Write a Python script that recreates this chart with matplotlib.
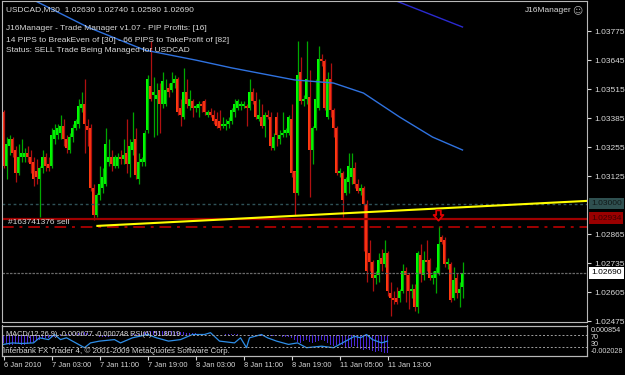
import matplotlib.pyplot as plt
from matplotlib.path import Path
import numpy as np

plt.rcParams['font.family'] = ['Liberation Sans', 'DejaVu Sans']

# --- свечи USDCAD M30 (цены) ---
opens = [1.0341, 1.0317, 1.0326, 1.0329, 1.0324, 1.0314, 1.0321, 1.0321, 1.0323, 1.0321,
         1.0319, 1.0315, 1.0311, 1.0316, 1.0321, 1.0318, 1.0317, 1.0329, 1.0331, 1.0332,
         1.0335, 1.0329, 1.0324, 1.0330, 1.0334, 1.0336, 1.0343, 1.0345, 1.0335, 1.0334,
         1.0307, 1.0295, 1.0304, 1.0307, 1.0309, 1.0319, 1.0321, 1.0317, 1.0317, 1.0321,
         1.0320, 1.0323, 1.0318, 1.0324, 1.0329, 1.0311, 1.0319, 1.0319, 1.0333, 1.0353,
         1.0349, 1.0347, 1.0351, 1.0345, 1.0345, 1.0352, 1.0351, 1.0354, 1.0356, 1.0343,
         1.0339, 1.0350, 1.0344, 1.0346, 1.0343, 1.0343, 1.0345, 1.0346, 1.0340, 1.0341,
         1.0340, 1.0338, 1.0337, 1.0335, 1.0335, 1.0336, 1.0337, 1.0341, 1.0343, 1.0344,
         1.0344, 1.0344, 1.0343, 1.0350, 1.0346, 1.0338, 1.0339, 1.0335, 1.0340, 1.0339,
         1.0325, 1.0339, 1.0329, 1.0331, 1.0332, 1.0332, 1.0338, 1.0315, 1.0305, 1.0359,
         1.0346, 1.0347, 1.0348, 1.0324, 1.0334, 1.0343, 1.0365, 1.0364, 1.0339, 1.0356,
         1.0342, 1.0334, 1.0314, 1.0314, 1.0305, 1.0310, 1.0312, 1.0316, 1.0309, 1.0306,
         1.0307, 1.0300, 1.0278, 1.0274, 1.0267, 1.0268, 1.0276, 1.0273, 1.0278, 1.0260,
         1.0258, 1.0258, 1.0258, 1.0261, 1.0270, 1.0268, 1.0261, 1.0262, 1.0254, 1.0277,
         1.0268, 1.0275, 1.0275, 1.0267, 1.0267, 1.0269, 1.0285, 1.0284, 1.0273, 1.0273,
         1.0258, 1.0267, 1.0260, 1.0263]
highs = [1.0342, 1.0330, 1.0331, 1.0330, 1.0326, 1.0327, 1.0329, 1.0325, 1.0326, 1.0324,
         1.0321, 1.0320, 1.0317, 1.0324, 1.0323, 1.0321, 1.0334, 1.0336, 1.0336, 1.0340,
         1.0338, 1.0331, 1.0332, 1.0336, 1.0338, 1.0347, 1.0350, 1.0356, 1.0338, 1.0336,
         1.0309, 1.0305, 1.0317, 1.0316, 1.0334, 1.0329, 1.0324, 1.0322, 1.0323, 1.0324,
         1.0329, 1.0338, 1.0329, 1.0341, 1.0334, 1.0323, 1.0321, 1.0333, 1.0358, 1.0373,
         1.0357, 1.0354, 1.0354, 1.0359, 1.0356, 1.0354, 1.0359, 1.0358, 1.0357, 1.0347,
         1.0361, 1.0356, 1.0351, 1.0347, 1.0345, 1.0346, 1.0346, 1.0347, 1.0342, 1.0343,
         1.0342, 1.0341, 1.0342, 1.0339, 1.0338, 1.0339, 1.0343, 1.0347, 1.0347, 1.0346,
         1.0346, 1.0345, 1.0356, 1.0352, 1.0350, 1.0347, 1.0345, 1.0341, 1.0342, 1.0341,
         1.0332, 1.0341, 1.0333, 1.0341, 1.0334, 1.0340, 1.0345, 1.0315, 1.0373, 1.0366,
         1.0349, 1.0373, 1.0360, 1.0335, 1.0356, 1.0371, 1.0367, 1.0365, 1.0359, 1.0363,
         1.0343, 1.0335, 1.0316, 1.0315, 1.0312, 1.0323, 1.0323, 1.0319, 1.0311, 1.0309,
         1.0308, 1.0302, 1.0284, 1.0275, 1.0270, 1.0278, 1.0280, 1.0284, 1.0279, 1.0265,
         1.0261, 1.0263, 1.0262, 1.0273, 1.0272, 1.0269, 1.0264, 1.0264, 1.0279, 1.0282,
         1.0279, 1.0284, 1.0276, 1.0270, 1.0272, 1.0290, 1.0286, 1.0285, 1.0276, 1.0274,
         1.0272, 1.0269, 1.0265, 1.0274]
lows = [1.0316, 1.0311, 1.0322, 1.0321, 1.0310, 1.0313, 1.0319, 1.0319, 1.0319, 1.0314,
        1.0308, 1.0309, 1.0294, 1.0314, 1.0315, 1.0315, 1.0316, 1.0327, 1.0329, 1.0329,
        1.0326, 1.0323, 1.0323, 1.0328, 1.0333, 1.0334, 1.0341, 1.0323, 1.0326, 1.0306,
        1.0293, 1.0294, 1.0302, 1.0305, 1.0308, 1.0317, 1.0315, 1.0316, 1.0316, 1.0318,
        1.0318, 1.0314, 1.0312, 1.0322, 1.0311, 1.0309, 1.0317, 1.0317, 1.0332, 1.0346,
        1.0330, 1.0331, 1.0332, 1.0343, 1.0344, 1.0348, 1.0350, 1.0352, 1.0340, 1.0335,
        1.0338, 1.0343, 1.0342, 1.0339, 1.0341, 1.0339, 1.0341, 1.0340, 1.0339, 1.0339,
        1.0336, 1.0334, 1.0333, 1.0334, 1.0333, 1.0334, 1.0336, 1.0339, 1.0342, 1.0342,
        1.0343, 1.0335, 1.0342, 1.0345, 1.0338, 1.0337, 1.0334, 1.0330, 1.0338, 1.0324,
        1.0324, 1.0326, 1.0327, 1.0330, 1.0330, 1.0331, 1.0312, 1.0295, 1.0304, 1.0345,
        1.0344, 1.0345, 1.0303, 1.0318, 1.0333, 1.0342, 1.0362, 1.0342, 1.0338, 1.0339,
        1.0330, 1.0313, 1.0312, 1.0294, 1.0304, 1.0305, 1.0309, 1.0307, 1.0305, 1.0304,
        1.0279, 1.0265, 1.0270, 1.0261, 1.0264, 1.0265, 1.0270, 1.0272, 1.0259, 1.0250,
        1.0255, 1.0255, 1.0256, 1.0260, 1.0256, 1.0253, 1.0258, 1.0252, 1.0251, 1.0265,
        1.0266, 1.0270, 1.0266, 1.0264, 1.0260, 1.0268, 1.0282, 1.0272, 1.0271, 1.0256,
        1.0257, 1.0258, 1.0254, 1.0258]
closes = [1.0317, 1.0327, 1.0329, 1.0323, 1.0314, 1.0321, 1.0323, 1.0323, 1.0321, 1.0318,
          1.0311, 1.0312, 1.0316, 1.0321, 1.0317, 1.0316, 1.0331, 1.0333, 1.0334, 1.0335,
          1.0329, 1.0325, 1.0330, 1.0334, 1.0337, 1.0344, 1.0345, 1.0336, 1.0333, 1.0307,
          1.0295, 1.0304, 1.0309, 1.0312, 1.0327, 1.0321, 1.0318, 1.0321, 1.0321, 1.0320,
          1.0322, 1.0318, 1.0326, 1.0328, 1.0313, 1.0319, 1.0320, 1.0332, 1.0356, 1.0347,
          1.0350, 1.0349, 1.0345, 1.0355, 1.0351, 1.0350, 1.0354, 1.0356, 1.0341, 1.0340,
          1.0350, 1.0345, 1.0347, 1.0343, 1.0344, 1.0345, 1.0344, 1.0341, 1.0341, 1.0340,
          1.0337, 1.0335, 1.0334, 1.0336, 1.0336, 1.0337, 1.0342, 1.0345, 1.0346, 1.0345,
          1.0345, 1.0343, 1.0350, 1.0346, 1.0339, 1.0340, 1.0335, 1.0340, 1.0339, 1.0326,
          1.0330, 1.0331, 1.0331, 1.0332, 1.0333, 1.0339, 1.0314, 1.0305, 1.0358, 1.0346,
          1.0347, 1.0356, 1.0324, 1.0334, 1.0347, 1.0365, 1.0364, 1.0343, 1.0356, 1.0342,
          1.0334, 1.0314, 1.0315, 1.0302, 1.0311, 1.0317, 1.0316, 1.0309, 1.0306, 1.0307,
          1.0300, 1.0270, 1.0274, 1.0267, 1.0268, 1.0275, 1.0273, 1.0278, 1.0261, 1.0258,
          1.0257, 1.0256, 1.0261, 1.0270, 1.0268, 1.0261, 1.0262, 1.0254, 1.0278, 1.0269,
          1.0275, 1.0274, 1.0267, 1.0268, 1.0270, 1.0282, 1.0283, 1.0273, 1.0274, 1.0257,
          1.0266, 1.0260, 1.0262, 1.0269]

# --- скользящие средние (точки) ---
ma_fast_bars = [6, 10, 28, 47, 64, 76, 97, 110, 120, 132, 143, 153]
ma_fast_vals = [1.03941, 1.03914, 1.03793, 1.03690, 1.03645, 1.03610,
                1.03556, 1.03542, 1.03497, 1.03390, 1.03300, 1.03242]
ma_slow_bars = [128, 153]
ma_slow_vals = [1.03925, 1.03793]

# --- линии менеджера сделки ---
trend_bars = [31.3, 194.5]
trend_vals = [1.02902, 1.03014]
level_round = 1.03000
level_order = 1.02934
level_tp = 1.02897
level_bid = 1.02690

price_ticks = [1.03775, 1.03645, 1.03515, 1.03385, 1.03255, 1.03125,
               1.02865, 1.02735, 1.02605, 1.02475]
time_ticks = [0, 16, 32, 48, 64, 80, 96, 112, 128]
time_labels = ['6 Jan 2010', '7 Jan 03:00', '7 Jan 11:00', '7 Jan 19:00', '8 Jan 03:00',
               '8 Jan 11:00', '8 Jan 19:00', '11 Jan 05:00', '11 Jan 13:00']

# --- подокно MACD + RSI ---
macd_hist = [-0.0008, -0.0009, -0.0010, -0.0010, -0.0009, -0.0009, -0.0010, -0.0010, -0.0009, -0.0008,
             -0.0007, -0.0006, -0.0005, -0.0004, -0.0003, -0.0003, -0.0002, -0.0002, -0.0001, -0.0001,
             0.0000, 0.0001, 0.0001, 0.0001, 0.0002, 0.0002, 0.0002, 0.0003, 0.0002, 0.0001,
             0.0000, -0.0001, -0.0002, -0.0002, -0.0002, -0.0002, -0.0001, -0.0001, -0.0001, -0.0001,
             0.0000, 0.0000, 0.0000, 0.0001, 0.0001, 0.0001, 0.0002, 0.0003, 0.0004, 0.0004,
             0.0004, 0.0004, 0.0004, 0.0004, 0.0004, 0.0004, 0.0004, 0.0003, 0.0003, 0.0003,
             0.0003, 0.0002, 0.0002, 0.0002, 0.0002, 0.0001, 0.0001, 0.0001, 0.0000, 0.0000,
             0.0000, 0.0000, 0.0000, 0.0000, 0.0001, 0.0001, 0.0001, 0.0001, 0.0001, 0.0000,
             0.0000, 0.0000, -0.0001, -0.0001, -0.0001, -0.0001, -0.0001, -0.0001, -0.0001, -0.0001,
             -0.0001, -0.0001, -0.0001, -0.0002, -0.0002, -0.0002, -0.0003, -0.0005, -0.0007, -0.0008,
             -0.0006, -0.0005, -0.0007, -0.0008, -0.0007, -0.0006, -0.0005, -0.0006, -0.0008, -0.0010,
             -0.0011, -0.0010, -0.0009, -0.0010, -0.0012, -0.0013, -0.0012, -0.0011, -0.0013, -0.0014,
             -0.0015, -0.0014, -0.0015, -0.0016, -0.0017, -0.0016, -0.0017, -0.0018, -0.0018]
rsi_bars = [0, 3, 6, 10, 12, 15, 17, 19, 21, 25, 27, 29, 32, 37, 39, 43, 48, 51, 55, 59,
            63, 67, 69, 72, 77, 79, 81, 82, 86, 88, 91, 95, 98, 101, 106, 110, 115, 117, 119,
            121, 123, 126, 128]
rsi_vals = [37, 42, 40, 42, 59, 53, 70, 53, 59, 37, 26, 42, 48, 53, 42, 59, 70, 59, 48, 53,
            70, 70, 76, 48, 42, 59, 26, 59, 70, 59, 48, 37, 42, 26, 31, 26, 53, 64, 59,
            70, 53, 42, 48]

W, H = 625, 375
BG = 'black'
FG = '#d8d8d8'


def fx(px):
    return px / W


def fy(py):
    return 1 - py / H


fig = plt.figure(figsize=(W / 100, H / 100), dpi=100, facecolor=BG)

ax = fig.add_axes([fx(2), fy(322), fx(585), 321 / H], facecolor=BG)
sub = fig.add_axes([fx(2), fy(355.5), fx(585), 30 / H], facecolor=BG)

x_min, x_max = -0.5, 194.5
bars = np.arange(len(opens))
o = np.array(opens)
c = np.array(closes)
up = c >= o

# --- свечи ---
ax.vlines(bars[up], np.array(lows)[up], np.array(highs)[up], color='#00a800', lw=0.9)
ax.vlines(bars[~up], np.array(lows)[~up], np.array(highs)[~up], color='#b01010', lw=0.9)
body = np.maximum(np.abs(c - o), 0.00003)
ax.bar(bars[up], body[up], bottom=o[up], width=0.72, color='#00ff00', linewidth=0)
ax.bar(bars[~up], body[~up], bottom=c[~up], width=0.72, color='#ff3a10', linewidth=0)

# --- средние ---
ax.plot(ma_fast_bars, ma_fast_vals, color='#2f72e0', lw=1.0)
ax.plot(ma_slow_bars, ma_slow_vals, color='#2a2ad0', lw=1.0)

# --- горизонтальные уровни ---
ax.axhline(level_round, color='#2f5258', lw=1.0, ls=(0, (2, 2)))
ax.axhline(level_order, color='#a00000', lw=1.6)
ax.axhline(level_tp, color='#a00000', lw=1.4, ls=(0, (6, 3, 1.5, 3)))
ax.axhline(level_bid, color='#6a6a6a', lw=0.9, ls=(0, (2, 1)))
ax.plot(trend_bars, trend_vals, color='#ffff00', lw=1.5)

# стрелка сделки
arrow = Path([(-0.45, 1), (0.45, 1), (0.45, 0.1), (0.95, 0.1), (0, -1),
              (-0.95, 0.1), (-0.45, 0.1), (-0.45, 1)],
             [Path.MOVETO] + [Path.LINETO] * 6 + [Path.CLOSEPOLY])
ax.scatter([144.7], [1.02950], marker=arrow, s=55, facecolor='black',
           edgecolor='#e00000', linewidth=1.3, zorder=5)

ax.set_xlim(x_min, x_max)
ax.set_ylim(1.024714, 1.039095)
ax.yaxis.tick_right()
ax.set_yticks(price_ticks)
ax.set_yticklabels([f'{p:.5f}' for p in price_ticks])
ax.tick_params(axis='y', colors=FG, labelsize=6, length=3, pad=2, width=0.8)
ax.set_xticks([])
for s in ax.spines.values():
    s.set_color('#b8b8b8')
    s.set_linewidth(0.8)

# --- подокно ---
sub.bar(np.arange(len(macd_hist)), macd_hist, width=0.45, color='#4a28d8', linewidth=0)
sub.set_ylim(-0.00210, 0.00095)
sub.set_xlim(x_min, x_max)
sub.set_yticks([])
rsi_ax = sub.twinx()
rsi_ax.plot(rsi_bars, rsi_vals, color='#2e8ee8', lw=0.9)
rsi_ax.axhline(70, color='#a0a0a0', lw=0.7, ls=(0, (2, 2)))
rsi_ax.axhline(30, color='#a0a0a0', lw=0.7, ls=(0, (2, 2)))
rsi_ax.set_ylim(0, 100)
rsi_ax.set_yticks([])
rsi_ax.set_xlim(x_min, x_max)
for a in (sub, rsi_ax):
    for s in a.spines.values():
        s.set_color('#b8b8b8')
        s.set_linewidth(0.8)
sub.set_xticks(time_ticks)
sub.set_xticklabels(time_labels)
plt.setp(sub.get_xticklabels(), ha='left')
sub.tick_params(axis='x', colors=FG, labelsize=5.4, length=3, pad=2, width=0.8)

# --- тексты ---
txt = dict(color=FG, fontsize=6, va='center', ha='left')
fig.text(fx(6), fy(9.5), 'USDCAD,M30  1.02630 1.02740 1.02580 1.02690', **txt)
fig.text(fx(6), fy(29), 'J16Manager - Trade Manager v1.07 - PIP Profits: [16]', **txt)
fig.text(fx(6), fy(40.5), '14 PIPS to BreakEven of [30] - 66 PIPS to TakeProfit of [82]', **txt)
fig.text(fx(6), fy(51), 'Status: SELL Trade Being Managed for USDCAD', **txt)
fig.text(fx(572), fy(10), 'J16Manager', color=FG, fontsize=6, va='center', ha='right')
fig.text(fx(577), fy(10), '\u263a', color='#b0b0b0', fontsize=7, va='center', ha='center',
         family='DejaVu Sans')
fig.text(fx(8), fy(222), '#163741376 sell', **txt)
fig.text(fx(6), fy(334), 'MACD(12,26,9) -0.000677 -0.000748 RSI(6) 51.8019',
         color=FG, fontsize=5.3, va='center', ha='left')
fig.text(fx(3), fy(351), 'Interbank FX Trader 4, \u00a9 2001-2009 MetaQuotes Software Corp.',
         color=FG, fontsize=5.7, va='center', ha='left')

# подписи справа у подокна
small = dict(color=FG, fontsize=5.2, va='center', ha='left')
fig.text(fx(591), fy(330), '0.000854', **small)
fig.text(fx(591), fy(337.5), '70', **small)
fig.text(fx(591), fy(344), '30', **small)
fig.text(fx(591), fy(351.5), '-0.002028', **small)

# плашки цен
box = dict(fontsize=6, va='center', ha='left')
fig.text(fx(591), fy(203.5), '1.03000', color='#101818',
         bbox=dict(boxstyle='square,pad=0.25', fc='#2f5050', ec='none'), **box)
fig.text(fx(591), fy(218), '1.02934', color='#3c0000',
         bbox=dict(boxstyle='square,pad=0.25', fc='#9a0000', ec='none'), **box)
fig.text(fx(591), fy(273), '1.02690', color='black',
         bbox=dict(boxstyle='square,pad=0.25', fc='white', ec='none'), **box)

fig.savefig('out.png', dpi=100, facecolor=BG)
